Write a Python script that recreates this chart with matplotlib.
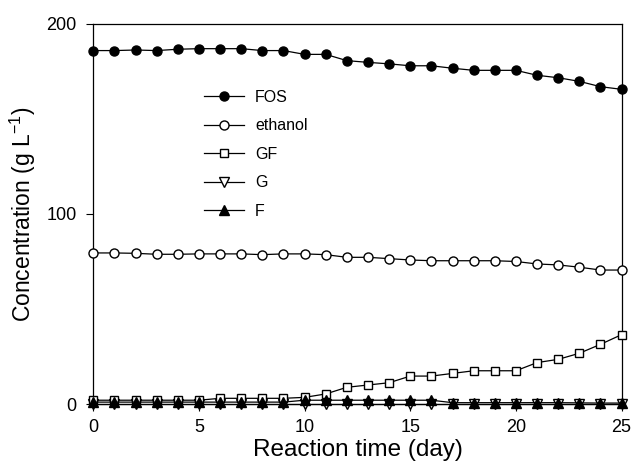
import matplotlib
matplotlib.use("Agg")
import matplotlib.pyplot as plt

plt.rcParams['font.family'] = ['Liberation Sans', 'DejaVu Sans']
plt.rcParams['mathtext.default'] = 'regular'

days = list(range(26))
fos = [186, 186, 186.3, 186, 186.7, 187, 187, 187, 186, 186, 184, 184, 180.7, 179.8, 179,
       178, 178, 176.7, 175.6, 175.6, 175.6, 173, 171.7, 169.8, 167, 165.6]
ethanol = [79.5, 79.5, 79.3, 78.8, 78.8, 79, 79, 79, 78.6, 79, 79, 78.6, 77.2, 77.2, 76.5,
           75.8, 75.4, 75.4, 75.4, 75.4, 75, 73.7, 73.2, 72, 70.5, 70.5]
gf = [2, 2, 2, 2, 2, 2, 3, 3, 3, 3, 3.5, 5.3, 8.8, 10, 11.2, 14.7, 14.7, 16.1, 17.5, 17.5,
      17.5, 21.8, 23.5, 26.7, 31.4, 36.5]
g = [0] * 26
f = [1, 1, 1, 1, 1, 1, 1, 1, 1, 1, 2, 2, 2, 2, 2, 2, 2, 0.7, 0.7, 0.7, 0.7, 0.7, 0.7,
     0.6, 0.5, 0.5]

fig = plt.figure(figsize=(6.33, 4.70), dpi=100)
ax = fig.add_axes([0.1474, 0.1404, 0.8346, 0.8086])

ms = 6.5
ax.plot(days, fos, 'k-', marker='o', mfc='black', mec='black', ms=ms, lw=0.9,
        clip_on=False, label='FOS', zorder=5)
ax.plot(days, ethanol, 'k-', marker='o', mfc='white', mec='black', ms=ms, lw=0.9,
        clip_on=False, label='ethanol', zorder=5)
ax.plot(days, gf, 'k-', marker='s', mfc='white', mec='black', ms=ms - 0.5, lw=0.9,
        clip_on=False, label='GF', zorder=4)
ax.plot(days, g, 'k-', marker='v', mfc='white', mec='black', ms=ms, lw=0.9,
        clip_on=False, label='G', zorder=3)
ax.plot(days, f, 'k-', marker='^', mfc='black', mec='black', ms=ms, lw=0.9,
        clip_on=False, label='F', zorder=6)

ax.set_xlim(0, 25)
ax.set_ylim(0, 200)
ax.set_xticks([0, 5, 10, 15, 20, 25])
ax.set_yticks([0, 100, 200])
ax.tick_params(direction='out', length=5, labelsize=13, width=0.8)
ax.tick_params(axis='y', pad=7)
ax.tick_params(axis='x', pad=6)
for sp in ax.spines.values():
    sp.set_linewidth(0.9)

ax.set_xlabel('Reaction time (day)', fontsize=17.5, labelpad=2)
ax.set_ylabel('Concentration (g L$^{-1}$)', fontsize=16.5, labelpad=6)

ax.legend(loc='upper left', bbox_to_anchor=(0.182, 0.865), frameon=False, fontsize=11.5,
          handlelength=2.5, labelspacing=0.85, handletextpad=0.7)

fig.savefig('out.png', dpi=100)
